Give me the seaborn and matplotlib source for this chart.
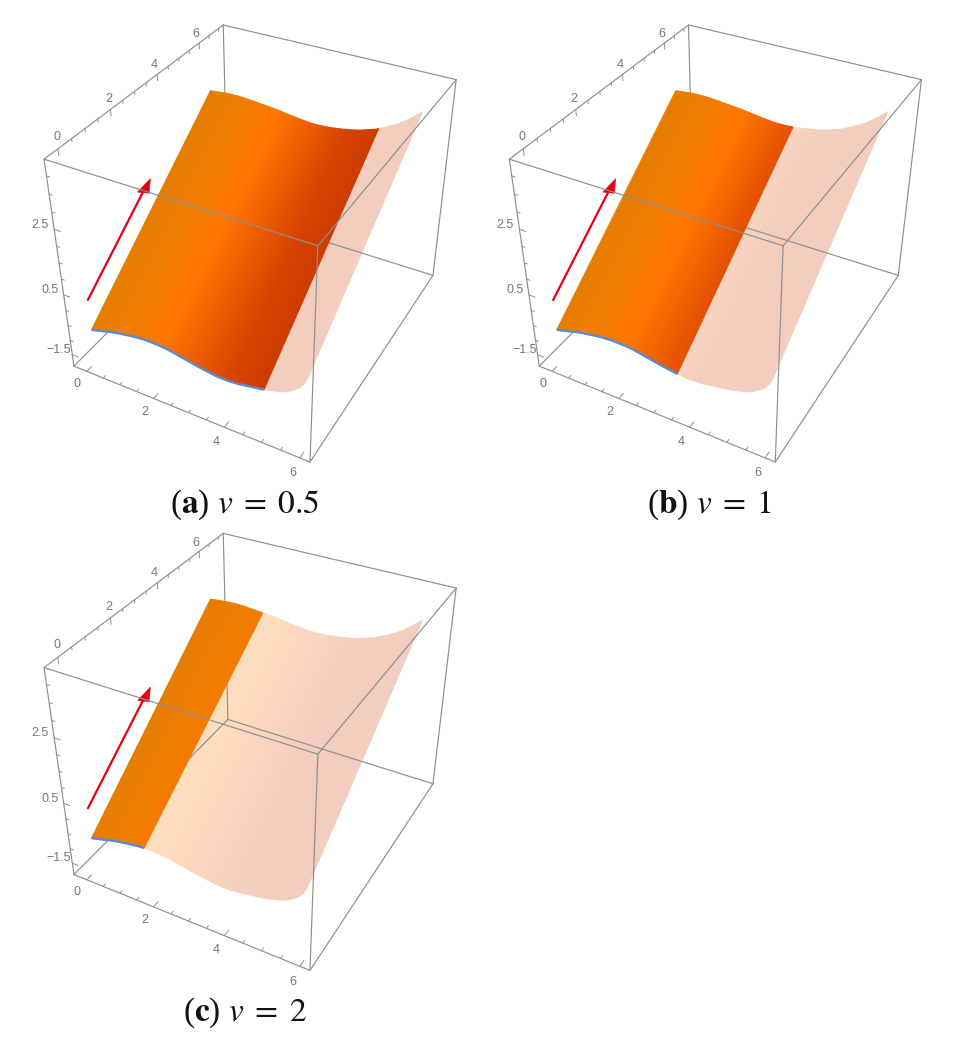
import numpy as np
import matplotlib
matplotlib.use("Agg")
import matplotlib.pyplot as plt
import seaborn as sns
from mpl_toolkits.mplot3d import proj3d
from mpl_toolkits.mplot3d.art3d import Poly3DCollection

sns.set_theme(style="white")
plt.rcParams['font.family'] = ['Liberation Sans', 'DejaVu Sans']
plt.rcParams['mathtext.fontset'] = 'stix'

# surface profile: height along the edge t=0 and the edge t=6
x_vals = [-0.1, 0.0, 0.1, 0.2, 0.3, 0.4, 0.5, 0.6, 0.7, 0.8, 0.9, 1.0, 1.1, 1.2, 1.3, 1.4,
          1.5, 1.6, 1.7, 1.8, 1.9, 2.0, 2.1, 2.2, 2.3, 2.4, 2.5, 2.6, 2.7, 2.8, 2.9, 3.0,
          3.1, 3.2, 3.3, 3.4, 3.5, 3.6, 3.7, 3.8, 3.9, 4.0, 4.1, 4.2, 4.3, 4.4, 4.5, 4.6,
          4.7, 4.8, 4.9, 5.0, 5.1, 5.2, 5.3, 5.4, 5.5, 5.6, 5.7, 5.8, 5.9]
z_front = [-0.91, -0.88, -0.85, -0.82, -0.79, -0.757, -0.725, -0.70, -0.675, -0.655, -0.635,
           -0.615, -0.595, -0.58, -0.565, -0.555, -0.545, -0.54, -0.54, -0.545, -0.55, -0.557,
           -0.565, -0.58, -0.60, -0.622, -0.645, -0.667, -0.69, -0.712, -0.735, -0.755, -0.775,
           -0.793, -0.81, -0.826, -0.84, -0.847, -0.85, -0.849, -0.845, -0.837, -0.825, -0.807,
           -0.785, -0.765, -0.745, -0.725, -0.705, -0.68, -0.655, -0.62, -0.585, -0.55, -0.51,
           -0.45, -0.38, -0.29, -0.19, -0.04, 0.20]
z_back = [3.07, 3.08, 3.09, 3.10, 3.11, 3.118, 3.125, 3.128, 3.13, 3.128, 3.125, 3.115, 3.105,
          3.098, 3.09, 3.08, 3.07, 3.06, 3.05, 3.04, 3.03, 3.015, 3.0, 2.982, 2.965, 2.952,
          2.94, 2.927, 2.915, 2.905, 2.895, 2.892, 2.89, 2.895, 2.90, 2.907, 2.915, 2.93,
          2.945, 2.962, 2.98, 3.0, 3.02, 3.045, 3.07, 3.105, 3.14, 3.175, 3.21, 3.26, 3.31,
          3.365, 3.42, 3.48, 3.54, 3.615, 3.69, 3.78, 3.87, 3.965, 4.06]
t_edges = [0, 6]

# arrow (x, t, z)
arrow_start = [0, -0.11, 0.21]
arrow_neck = [0, 2.5, 1.9]
arrow_tip = [0, 2.81, 2.11]
arrow_base = [[-0.18, 2.46, 1.84], [0.18, 2.46, 1.92]]

panel_labels = ['a', 'b', 'c']
panel_values = ['0.5', '1', '2']
panel_cuts = [4.8, 3.4, 1.5]

x_lim = (-0.4, 6.26)
y_lim = (-0.49, 7.25)
z_lim = (-1.9, 4.45)
x_major = [0, 2, 4, 6]
y_major = [0, 2, 4, 6]
z_major = [-1.5, 0.5, 2.5]
x_minor = [0.5, 1, 1.5, 2.5, 3, 3.5, 4.5, 5, 5.5]
y_minor = [0.5, 1, 1.5, 2.5, 3, 3.5, 4.5, 5, 5.5, 6.5, 7]
z_minor = [-1, -0.5, 0, 1, 1.5, 2, 3, 3.5, 4]

colors = ['#e67d00', '#ee7d00', '#ff7600', '#ee5a00', '#d44100', '#cd3a00', '#cd3a00']
cmap = sns.blend_palette(colors, as_cmap=True)
line_c = '#8f8f8f'
tick_c = '#777777'

fig = plt.figure(figsize=(9.55, 10.56), dpi=100)


def tick_label(ax, x, y, z, s):
    # project by hand so the label stays plain 2D text
    u, v, _ = proj3d.proj_transform(x, y, z, ax.get_proj())
    ax.text2D(u, v, s, transform=ax.transData, color=tick_c, fontsize=9, ha='center', va='center', zorder=6)


def draw_panel(left, bottom, cut, label, value, cap_x, cap_y):
    ax = fig.add_axes([left / 955, bottom / 1056, 560 / 955, 560 / 1056], projection='3d')
    ax.patch.set_visible(False)
    ax.computed_zorder = False
    ax.set_xlim(*x_lim)
    ax.set_ylim(*y_lim)
    ax.set_zlim(*z_lim)
    ax.view_init(35.6372, -61.494, 0.0969)
    ax.set_proj_type('persp', focal_length=0.3468)
    ax.set_box_aspect((1.0799, 1.2629, 1.0), zoom=0.829)
    ax.set_axis_off()

    x = np.array(x_vals)
    X = np.vstack([x, x])
    Y = np.vstack([np.full(len(x), t_edges[0]), np.full(len(x), t_edges[1])])
    Z = np.vstack([z_front, z_back])
    mid = (x[:-1] + x[1:]) / 2
    fc = cmap(mid / 6)[np.newaxis, :, :]
    k = int(np.argmin(np.abs(x - cut)))

    # pale part of the surface is the same colour mixed with white
    pale = fc[:, k:, :].copy()
    pale[..., :3] = pale[..., :3] * 0.25 + 0.75
    ax.plot_surface(X[:, k:], Y[:, k:], Z[:, k:], facecolors=pale, shade=False, rstride=1,
                    cstride=1, linewidth=0.8, antialiased=True, zorder=1)

    # box edges behind the surface
    x0, x1 = x_lim
    y0, y1 = y_lim
    z0, z1 = z_lim
    back = [((x0, y0, z0), (x0, y1, z0)), ((x0, y1, z0), (x1, y1, z0)), ((x0, y1, z0), (x0, y1, z1))]
    front = [((x0, y0, z1), (x1, y0, z1)), ((x1, y0, z1), (x1, y1, z1)), ((x1, y1, z1), (x0, y1, z1)),
             ((x0, y1, z1), (x0, y0, z1)), ((x0, y0, z1), (x0, y0, z0)), ((x0, y0, z0), (x1, y0, z0)),
             ((x1, y0, z0), (x1, y1, z0)), ((x1, y0, z0), (x1, y0, z1)), ((x1, y1, z0), (x1, y1, z1))]
    for a, b in back:
        ax.plot(*zip(a, b), color=line_c, lw=0.85, zorder=2)

    ax.plot_surface(X[:, :k + 1], Y[:, :k + 1], Z[:, :k + 1], facecolors=fc[:, :k, :], shade=False,
                    rstride=1, cstride=1, linewidth=0.8, antialiased=True, zorder=3)
    ax.plot(x[:k + 1], np.zeros(k + 1), np.array(z_front)[:k + 1], color='#5b8bd0', lw=1.7,
            solid_capstyle='butt', zorder=4)

    # red arrow
    ax.plot([arrow_start[0], arrow_neck[0]], [arrow_start[1], arrow_neck[1]], [arrow_start[2], arrow_neck[2]],
            color='#e6000f', lw=1.6, zorder=4)
    ax.add_collection3d(Poly3DCollection([[arrow_tip, arrow_base[0], arrow_base[1]]],
                                         facecolor='#e6000f', edgecolor='#e6000f', lw=0.3, zorder=4))

    for a, b in front:
        ax.plot(*zip(a, b), color=line_c, lw=0.85, zorder=5)

    # ticks
    for vals, size in [(x_major, 0.2), (x_minor, 0.1)]:
        for v in vals:
            ax.plot([v, v], [y0, y0 + size], [z0, z0], color=line_c, lw=0.7, zorder=5)
    for vals, size in [(y_major, 0.18), (y_minor, 0.09)]:
        for v in vals:
            ax.plot([x0, x0], [v, v], [z1, z1 - size], color=line_c, lw=0.7, zorder=5)
    for vals, size in [(z_major, 0.18), (z_minor, 0.09)]:
        for v in vals:
            ax.plot([x0, x0 + size], [y0, y0], [v, v], color=line_c, lw=0.7, zorder=5)

    for v in x_major:
        tick_label(ax, v + 0.06, y0 - 0.48, z0, str(v))
    for v in y_major:
        tick_label(ax, x0 - 0.34, v + 0.4, z1, str(v))
    for v in z_major:
        tick_label(ax, x0 - 0.4, y0 - 0.02, v, str(v).replace('-', '\u2212'))

    fig.text(cap_x / 955, 1 - cap_y / 1056, r'($\mathbf{%s}$) $v\;=\;%s$' % (label, value), fontsize=24,
             family='Liberation Serif', color='#111111', ha='center', va='center')


draw_panel(-24.73, 543.88, panel_cuts[0], panel_labels[0], panel_values[0], 245, 505)
draw_panel(440.57, 543.88, panel_cuts[1], panel_labels[1], panel_values[1], 710, 505)
draw_panel(-24.73, 35.48, panel_cuts[2], panel_labels[2], panel_values[2], 245, 1013)

fig.savefig('out.png', dpi=100)
